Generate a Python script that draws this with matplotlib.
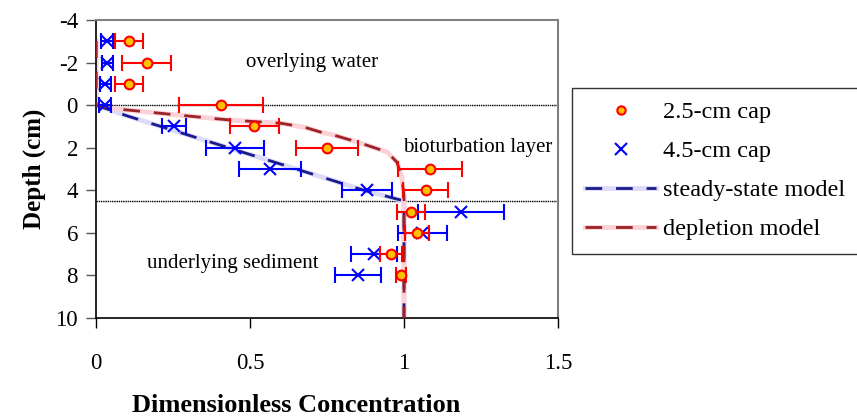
import matplotlib.pyplot as plt
from matplotlib.lines import Line2D

plt.rcParams['font.family'] = ['Liberation Serif', 'DejaVu Serif']
plt.rcParams['axes.unicode_minus'] = False

# measured points, 2.5-cm cap
depth_25 = [-3, -2, -1, 0, 1, 2, 3, 4, 5, 6, 7, 8]
conc_25 = [0.107, 0.165, 0.107, 0.405, 0.514, 0.75, 1.084, 1.071, 1.023, 1.042, 0.958, 0.99]
err_25 = [0.045, 0.08, 0.045, 0.137, 0.08, 0.1, 0.104, 0.073, 0.045, 0.04, 0.035, 0.015]

# measured points, 4.5-cm cap
depth_45 = [-3, -2, -1, 0, 1, 2, 3, 4, 5, 6, 7, 8]
conc_45 = [0.036, 0.036, 0.03, 0.03, 0.253, 0.451, 0.565, 0.88, 1.185, 1.06, 0.903, 0.85]
err_45 = [0.02, 0.018, 0.018, 0.02, 0.04, 0.095, 0.1, 0.08, 0.14, 0.08, 0.075, 0.075]

# model curves
ss_depth = [-3, 0, 0.5, 1, 1.5, 2, 2.5, 3, 3.5, 4, 4.5, 10]
ss_conc = [0, 0, 0.1, 0.21, 0.32, 0.43, 0.54, 0.65, 0.76, 0.87, 1.0, 1.0]
dep_depth = [-3, 0, 0.16, 0.47, 0.7, 0.85, 1.05, 1.27, 1.4, 1.74, 2.2, 2.68, 3.38, 4.3, 10]
dep_conc = [0, 0, 0.055, 0.27, 0.435, 0.6, 0.68, 0.73, 0.77, 0.85, 0.945, 0.977, 0.993, 1.0, 1.0]

fig = plt.figure(figsize=(8.57, 4.2), dpi=100)
ax = fig.add_axes([96/857, 1-318/420, 462/857, 298/420])

# model lines: light backing + dark dashes
ss_back, = ax.plot(ss_conc, ss_depth, color='#DCDCFA', lw=3.5, zorder=2)
ss_line, = ax.plot(ss_conc, ss_depth, color='#1A1A8C', lw=2, dashes=(6, 5), zorder=3)
dep_back, = ax.plot(dep_conc, dep_depth, color='#FAD2D8', lw=3.5, zorder=2)
dep_line, = ax.plot(dep_conc, dep_depth, color='#9B2226', lw=2, dashes=(6, 5), zorder=3)

# data
ax.errorbar(conc_45, depth_45, xerr=err_45, fmt='x', color='#0000FF', ms=9, mew=1.5,
            elinewidth=1.5, capsize=6, capthick=1.5, zorder=4)
ax.errorbar(conc_25, depth_25, xerr=err_25, fmt='o', mfc='#FFC000', mec='#FF0000',
            ms=7, mew=1.5, ecolor='#FF0000', elinewidth=1.5, capsize=6, capthick=1.5, zorder=5)

# layer boundaries
ax.axhline(0, color='black', lw=1, ls=(0, (1, 0.6)), zorder=1)
ax.axhline(4.5, color='black', lw=1, ls=(0, (1, 0.6)), zorder=1)

ax.set_xlim(0, 1.5)
ax.set_ylim(10, -4)
ax.set_xticks([0, 0.5, 1, 1.5])
ax.set_xticklabels(['0', '0.5', '1', '1.5'])
ax.set_yticks([-4, -2, 0, 2, 4, 6, 8, 10])
ax.tick_params(axis='x', length=7, width=1, pad=18, labelsize=16.5)
ax.tick_params(axis='y', length=7, width=1, pad=6, labelsize=16.5, color='#555555')
for s in ['top', 'right']:
    ax.spines[s].set_color('#808080')
    ax.spines[s].set_linewidth(1.5)
ax.spines['left'].set_linewidth(1.2)
ax.spines['bottom'].set_linewidth(1.2)

ax.text(0.70, -2, 'overlying water', fontsize=15, ha='center', va='center')
ax.text(1.24, 2, 'bioturbation layer', fontsize=15, ha='center', va='center')
ax.text(0.445, 7.45, 'underlying sediment', fontsize=15, ha='center', va='center')

ax.set_ylabel('Depth (cm)', fontsize=18, fontweight='bold', labelpad=7)
fig.text(296/857, 1-405/420, 'Dimensionless Concentration', fontsize=19, fontweight='bold',
         ha='center', va='center')

h25 = Line2D([], [], ls='none', marker='o', mfc='#FFC000', mec='#FF0000', ms=6, mew=1.5)
h45 = Line2D([], [], ls='none', marker='x', color='#0000FF', ms=8, mew=1.5)
leg = fig.legend([h25, h45, (ss_back, ss_line), (dep_back, dep_line)],
                 ['2.5-cm cap', '4.5-cm cap', 'steady-state model', 'depletion model'],
                 loc='upper left', bbox_to_anchor=(572/857, 1-88/420), fontsize=17.5,
                 frameon=True, fancybox=False, edgecolor='black', handlelength=2.9,
                 handletextpad=0.3, labelspacing=0.7, borderpad=0.55, borderaxespad=0)
leg.get_frame().set_linewidth(1)

fig.savefig('out.png', dpi=100)
